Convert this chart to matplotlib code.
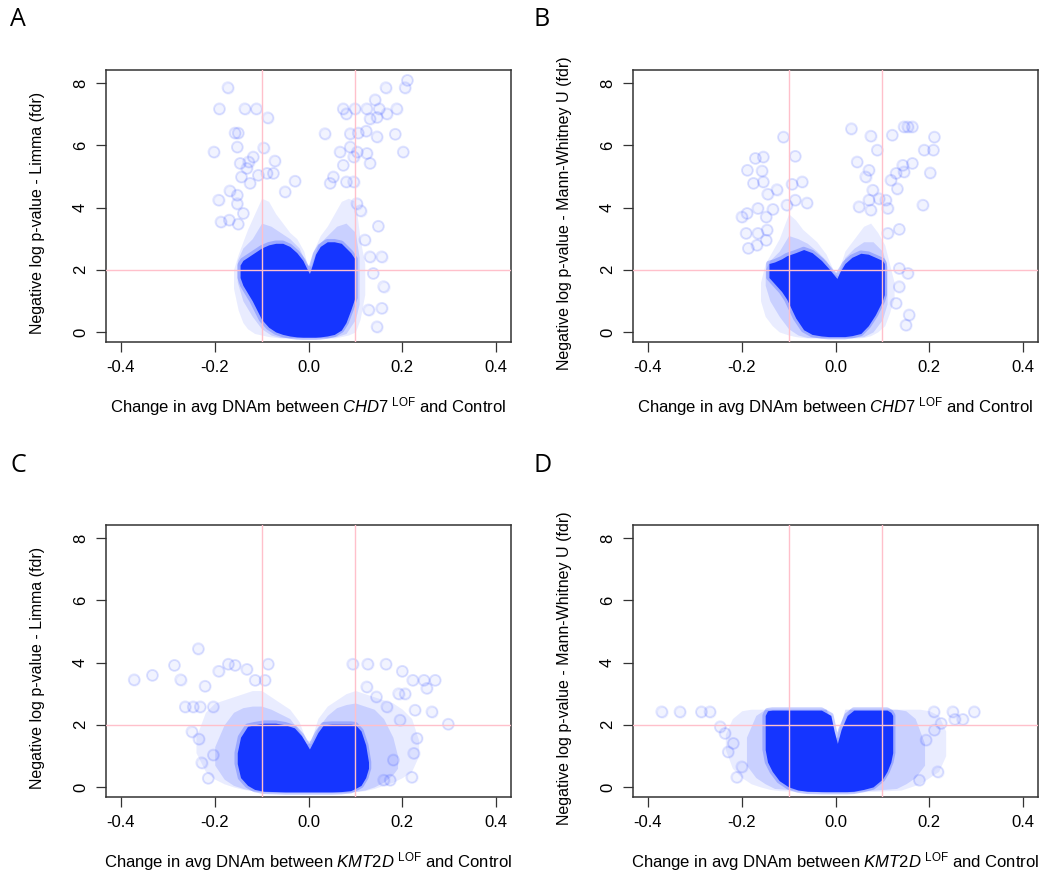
import matplotlib.pyplot as plt

plt.rcParams['font.family'] = 'Liberation Sans'
plt.rcParams['mathtext.fontset'] = 'custom'
plt.rcParams['mathtext.rm'] = 'Liberation Sans'
plt.rcParams['mathtext.it'] = 'Liberation Sans:italic'
plt.rcParams['axes.unicode_minus'] = False

# ---- panel A : CHD7, limma ----
# dense cloud, drawn as three layers (x, lower edge, upper edge)
a_halo_x = [-0.160, -0.150, -0.140, -0.130, -0.115, -0.100, -0.085, -0.070, -0.055, -0.040, -0.025, -0.010, 0.000,
            0.010, 0.025, 0.040, 0.055, 0.070, 0.085, 0.100, 0.110, 0.120]
a_halo_lo = [1.4, 0.7, 0.3, 0.1, -0.05, -0.1, -0.15, -0.18, -0.2, -0.2, -0.2, -0.2, -0.2,
             -0.2, -0.2, -0.2, -0.2, -0.15, -0.1, 0.0, 0.4, 1.2]
a_halo_hi = [2.0, 2.5, 2.9, 3.3, 3.8, 4.3, 4.2, 3.8, 3.5, 3.2, 3.0, 2.6, 2.0,
             2.6, 3.1, 3.4, 3.8, 4.2, 4.3, 4.2, 3.0, 2.2]
a_mid_x = [-0.152, -0.140, -0.120, -0.100, -0.080, -0.060, -0.040, -0.020, -0.005, 0.005, 0.020, 0.040, 0.060,
           0.080, 0.100, 0.108]
a_mid_lo = [1.6, 1.0, 0.5, 0.1, -0.1, -0.18, -0.18, -0.18, -0.18, -0.18, -0.18, -0.18, -0.15, -0.05, 0.4, 0.9]
a_mid_hi = [2.3, 2.7, 3.0, 3.5, 3.4, 3.2, 3.0, 2.7, 2.2, 2.1, 2.8, 3.1, 3.4, 3.5, 3.2, 2.4]
a_core_x = [-0.146, -0.140, -0.130, -0.120, -0.110, -0.100, -0.085, -0.070, -0.055, -0.040, -0.025, -0.012,
            -0.004, 0.002, 0.008, 0.015, 0.025, 0.040, 0.055, 0.070, 0.080, 0.090, 0.099]
a_core_lo = [1.75, 1.5, 1.25, 1.0, 0.7, 0.4, 0.15, 0.0, -0.08, -0.13, -0.16, -0.17,
             -0.17, -0.17, -0.17, -0.17, -0.16, -0.13, -0.08, 0.06, 0.3, 0.7, 1.1]
a_core_hi = [2.15, 2.3, 2.4, 2.5, 2.6, 2.7, 2.8, 2.85, 2.85, 2.75, 2.55, 2.3,
             2.05, 1.88, 2.15, 2.5, 2.75, 2.9, 2.9, 2.85, 2.7, 2.55, 2.35]
a_pts_x = [-0.172, -0.190, -0.136, -0.111, -0.087, 0.211, 0.206, 0.165, 0.142, 0.074, 0.099, 0.081, 0.124,
           0.151, 0.188, 0.167, 0.146, 0.131, 0.035, 0.089, 0.106, 0.123, 0.146, 0.185, -0.157, -0.150,
           -0.152, -0.096, -0.202, 0.202, 0.089, 0.104, 0.096, 0.124, 0.131, 0.067, 0.074, 0.053, 0.046,
           0.081, 0.096, -0.118, -0.128, -0.146, -0.132, -0.143, -0.125, -0.107, -0.089, -0.075, -0.072,
           -0.029, -0.050, -0.168, -0.152, -0.192, -0.152, -0.187, -0.169, -0.150, -0.139, 0.149, 0.131,
           0.156, 0.103, 0.111, 0.138, 0.160, 0.156, 0.146, 0.128, 0.120]
a_pts_y = [7.86, 7.18, 7.18, 7.18, 6.89, 8.09, 7.86, 7.86, 7.47, 7.18, 7.18, 7.02, 7.18,
           7.18, 7.18, 7.02, 6.90, 6.86, 6.38, 6.38, 6.40, 6.46, 6.28, 6.36, 6.40, 6.40,
           5.95, 5.92, 5.79, 5.79, 5.95, 5.79, 5.63, 5.74, 5.42, 5.79, 5.36, 4.99, 4.78,
           4.83, 4.83, 5.63, 5.47, 5.42, 5.26, 4.99, 4.78, 5.04, 5.10, 5.10, 5.50,
           4.85, 4.51, 4.54, 4.40, 4.24, 4.13, 3.54, 3.60, 3.47, 3.81, 3.40, 2.42,
           2.42, 4.13, 3.90, 1.88, 1.46, 0.76, 0.17, 0.71, 2.96]

# ---- panel B : CHD7, Mann-Whitney ----
b_halo_x = [-0.160, -0.150, -0.135, -0.120, -0.100, -0.085, -0.070, -0.055, -0.040, -0.020, -0.005, 0.005,
            0.020, 0.040, 0.060, 0.075, 0.090, 0.105, 0.115, 0.125]
b_halo_lo = [1.0, 0.5, 0.2, 0.0, -0.1, -0.15, -0.18, -0.2, -0.2, -0.2, -0.2, -0.2,
             -0.2, -0.2, -0.18, -0.12, 0.0, 0.2, 0.6, 1.1]
b_halo_hi = [1.6, 2.2, 2.6, 3.0, 3.8, 3.6, 3.3, 3.1, 2.9, 2.5, 2.0, 1.9,
             2.6, 3.0, 3.4, 3.5, 3.2, 2.8, 2.2, 1.6]
b_mid_x = [-0.150, -0.140, -0.120, -0.100, -0.080, -0.060, -0.040, -0.020, -0.005, 0.005, 0.020, 0.040,
           0.060, 0.080, 0.100, 0.110]
b_mid_lo = [1.5, 1.0, 0.5, 0.1, -0.1, -0.18, -0.18, -0.18, -0.18, -0.18, -0.18, -0.18, -0.15, 0.0, 0.4, 0.9]
b_mid_hi = [2.0, 2.3, 2.6, 3.1, 3.0, 2.85, 2.6, 2.3, 1.9, 1.8, 2.4, 2.7, 2.9, 2.9, 2.6, 2.1]
b_core_x = [-0.142, -0.130, -0.115, -0.104, -0.085, -0.068, -0.050, -0.030, -0.015, -0.004, 0.003, 0.010,
            0.020, 0.035, 0.054, 0.070, 0.085, 0.100, 0.104]
b_core_lo = [1.75, 1.55, 1.3, 1.05, 0.45, 0.07, -0.08, -0.13, -0.15, -0.15, -0.15, -0.15,
             -0.15, -0.12, -0.05, 0.2, 0.55, 1.0, 1.2]
b_core_hi = [2.2, 2.25, 2.35, 2.45, 2.55, 2.65, 2.55, 2.3, 2.05, 1.85, 1.72, 1.95,
             2.2, 2.4, 2.53, 2.5, 2.4, 2.3, 2.2]
b_pts_x = [-0.111, 0.034, 0.075, 0.121, 0.146, 0.154, 0.164, 0.211, 0.089, 0.189, 0.209, 0.046, 0.164,
           0.143, 0.146, 0.129, 0.202, 0.071, 0.064, 0.118, 0.132, 0.079, 0.186, 0.071, 0.093, 0.107,
           0.111, 0.050, 0.075, 0.136, 0.111, -0.171, -0.154, -0.086, -0.188, -0.157, -0.175, -0.154,
           -0.071, -0.093, -0.125, -0.145, -0.104, -0.086, -0.061, -0.200, -0.189, -0.166, -0.148,
           -0.134, -0.191, -0.166, -0.186, -0.168, -0.146, -0.148, 0.157, 0.150, 0.136, 0.129, 0.154, 0.136]
b_pts_y = [6.27, 6.54, 6.30, 6.33, 6.60, 6.60, 6.60, 6.27, 5.85, 5.85, 5.85, 5.47, 5.42,
           5.36, 5.15, 5.10, 5.12, 5.20, 4.99, 4.88, 4.61, 4.56, 4.08, 4.24, 4.29, 4.24,
           3.97, 4.03, 3.92, 3.30, 3.17, 5.58, 5.63, 5.65, 5.20, 5.18, 4.78, 4.83,
           4.83, 4.75, 4.58, 4.43, 4.08, 4.24, 4.15, 3.70, 3.81, 3.97, 3.70,
           3.94, 3.17, 3.17, 2.69, 2.79, 3.28, 2.95, 0.55, 0.22, 1.46, 0.92, 1.88, 2.04]

# ---- panel C : KMT2D, limma ----
c_halo_x = [-0.240, -0.220, -0.200, -0.180, -0.160, -0.140, -0.120, -0.100, -0.080, -0.060, -0.040, -0.020,
            -0.005, 0.005, 0.020, 0.040, 0.060, 0.080, 0.100, 0.120, 0.140, 0.160, 0.180, 0.200, 0.220, 0.235]
c_halo_lo = [1.1, 0.5, 0.25, 0.1, 0.0, -0.08, -0.12, -0.15, -0.17, -0.18, -0.18, -0.18,
             -0.18, -0.18, -0.18, -0.18, -0.18, -0.17, -0.15, -0.12, -0.05, 0.05, 0.15, 0.3, 0.5, 1.0]
c_halo_hi = [1.6, 2.4, 2.7, 2.8, 2.9, 3.0, 3.1, 3.1, 2.9, 2.7, 2.5, 2.1,
             1.5, 1.5, 2.2, 2.6, 2.8, 3.0, 3.1, 3.0, 2.9, 2.8, 2.7, 2.5, 2.2, 1.5]
c_mid_x = [-0.200, -0.180, -0.160, -0.140, -0.120, -0.100, -0.080, -0.060, -0.040, -0.020, -0.005, 0.005,
           0.020, 0.040, 0.060, 0.080, 0.100, 0.120, 0.140, 0.160, 0.180, 0.190]
c_mid_lo = [0.7, 0.25, 0.05, -0.05, -0.12, -0.15, -0.17, -0.17, -0.17, -0.17, -0.17, -0.17,
            -0.17, -0.17, -0.17, -0.17, -0.15, -0.1, 0.0, 0.15, 0.4, 0.6]
c_mid_hi = [1.3, 2.0, 2.4, 2.55, 2.6, 2.6, 2.5, 2.35, 2.2, 1.8, 1.4, 1.4,
            1.9, 2.3, 2.55, 2.65, 2.7, 2.6, 2.5, 2.2, 1.6, 1.0]
c_core_x = [-0.152, -0.145, -0.130, -0.115, -0.095, -0.070, -0.050, -0.030, -0.015, -0.005, 0.002, 0.010,
            0.020, 0.032, 0.050, 0.070, 0.090, 0.100, 0.112, 0.122, 0.128]
c_core_lo = [0.75, 0.3, 0.05, -0.08, -0.14, -0.15, -0.16, -0.16, -0.16, -0.16, -0.16, -0.16,
             -0.16, -0.16, -0.16, -0.15, -0.12, -0.05, 0.05, 0.3, 0.6]
c_core_hi = [1.1, 1.6, 1.95, 2.0, 2.05, 2.05, 2.0, 1.9, 1.65, 1.4, 1.22, 1.45,
             1.75, 2.0, 2.02, 2.02, 2.02, 2.0, 1.8, 1.35, 0.8]
c_pts_x = [-0.235, -0.372, -0.333, -0.286, -0.273, -0.171, -0.157, -0.132, -0.086, -0.114, -0.093, -0.192,
           -0.221, 0.094, 0.126, 0.165, 0.200, 0.270, 0.246, 0.222, 0.252, 0.227, 0.263, 0.298, 0.231,
           0.224, 0.220, 0.181, -0.249, -0.234, -0.203, -0.228, -0.214, -0.263, -0.246, -0.231, -0.203,
           0.174, 0.160, 0.145, 0.124, 0.192, 0.206, 0.167, 0.195]
c_pts_y = [4.45, 3.45, 3.59, 3.91, 3.45, 3.95, 3.91, 3.78, 3.95, 3.43, 3.43, 3.72,
           3.24, 3.95, 3.95, 3.95, 3.72, 3.43, 3.43, 3.43, 3.17, 2.47, 2.42, 2.02, 1.56,
           1.08, 0.31, 0.87, 1.78, 1.54, 1.03, 0.78, 0.28, 2.58, 2.58, 2.58, 2.58,
           0.22, 0.22, 2.90, 3.22, 3.00, 3.00, 2.58, 2.15]

# ---- panel D : KMT2D, Mann-Whitney ----
d_halo_x = [-0.235, -0.220, -0.200, -0.180, -0.160, -0.140, -0.120, -0.020, -0.008, 0.000, 0.010, 0.020,
            0.030, 0.140, 0.160, 0.180, 0.200, 0.220, 0.235]
d_halo_lo = [1.2, 0.6, 0.3, 0.1, 0.0, -0.08, -0.12, -0.18, -0.18, -0.18, -0.18, -0.18,
             -0.18, -0.1, 0.0, 0.1, 0.3, 0.5, 1.0]
d_halo_hi = [1.7, 2.2, 2.45, 2.5, 2.5, 2.5, 2.5, 2.5, 2.2, 1.6, 1.6, 2.2,
             2.5, 2.5, 2.5, 2.5, 2.45, 2.3, 1.8]
d_mid_x = [-0.190, -0.170, -0.150, -0.130, -0.020, 0.000, 0.020, 0.130, 0.150, 0.170, 0.190]
d_mid_lo = [0.7, 0.3, 0.1, -0.05, -0.17, -0.17, -0.17, -0.05, 0.1, 0.3, 0.7]
d_mid_hi = [1.6, 2.3, 2.5, 2.5, 2.5, 1.5, 2.5, 2.5, 2.45, 2.2, 1.4]
d_core_x = [-0.150, -0.145, -0.135, -0.120, -0.100, -0.080, -0.060, -0.030, -0.010, -0.003, 0.004, 0.012,
            0.025, 0.039, 0.060, 0.080, 0.100, 0.110, 0.118, 0.122]
d_core_lo = [1.2, 0.8, 0.5, 0.2, 0.0, -0.1, -0.14, -0.15, -0.15, -0.15, -0.15, -0.15,
             -0.15, -0.14, -0.08, 0.0, 0.25, 0.5, 0.8, 1.1]
d_core_hi = [2.3, 2.45, 2.47, 2.47, 2.47, 2.47, 2.47, 2.47, 2.3, 1.8, 1.4, 1.85,
             2.3, 2.47, 2.47, 2.47, 2.47, 2.47, 2.4, 2.3]
d_pts_x = [-0.371, -0.332, -0.286, -0.268, 0.296, 0.250, 0.210, -0.246, -0.236, -0.218, -0.229, -0.200,
           -0.211, 0.218, 0.211, 0.225, 0.254, 0.271, 0.193, 0.179]
d_pts_y = [2.42, 2.42, 2.42, 2.42, 2.42, 2.42, 2.42, 1.94, 1.72, 1.40, 1.13, 0.65,
           0.31, 0.49, 1.83, 2.04, 2.17, 2.17, 1.51, 0.22]

x_ticks = [-0.4, -0.2, 0.0, 0.2, 0.4]
x_ticklabels = ['-0.4', '-0.2', '0.0', '0.2', '0.4']
y_ticks = [0, 2, 4, 6, 8]
fc_cut = 0.1
p_cut = 2

ylab_limma = 'Negative log p-value - Limma (fdr)'
ylab_mw = 'Negative log p-value - Mann-Whitney U (fdr)'
xlab_chd7 = r'Change in avg DNAm between $\mathit{CHD7}^{\ \mathrm{LOF}}$ and Control'
xlab_kmt2d = r'Change in avg DNAm between $\mathit{KMT2D}^{\ \mathrm{LOF}}$ and Control'

BLUE = '#1535ff'
PINK = '#ffc0cb'
FW, FH = 1045, 875

panels = [
    ('A', (106, 70), ylab_limma, xlab_chd7,
     [(a_halo_x, a_halo_lo, a_halo_hi), (a_mid_x, a_mid_lo, a_mid_hi), (a_core_x, a_core_lo, a_core_hi)],
     a_pts_x, a_pts_y, (18, 20)),
    ('B', (633, 70), ylab_mw, xlab_chd7,
     [(b_halo_x, b_halo_lo, b_halo_hi), (b_mid_x, b_mid_lo, b_mid_hi), (b_core_x, b_core_lo, b_core_hi)],
     b_pts_x, b_pts_y, (542, 20)),
    ('C', (106, 525), ylab_limma, xlab_kmt2d,
     [(c_halo_x, c_halo_lo, c_halo_hi), (c_mid_x, c_mid_lo, c_mid_hi), (c_core_x, c_core_lo, c_core_hi)],
     c_pts_x, c_pts_y, (18, 465)),
    ('D', (633, 525), ylab_mw, xlab_kmt2d,
     [(d_halo_x, d_halo_lo, d_halo_hi), (d_mid_x, d_mid_lo, d_mid_hi), (d_core_x, d_core_lo, d_core_hi)],
     d_pts_x, d_pts_y, (543, 465)),
]

fig = plt.figure(figsize=(FW / 100, FH / 100), dpi=100)

for letter, (left, top), ylab, xlab, layers, px, py, (lx, ly) in panels:
    ax = fig.add_axes([left / FW, 1 - (top + 272) / FH, 405 / FW, 272 / FH])
    alphas = [0.09, 0.15, 1.0]
    for (lx_, lo_, hi_), al in zip(layers, alphas):
        ax.fill_between(lx_, lo_, hi_, color=BLUE, alpha=al, lw=0, zorder=1)
    # soft rim round the solid core
    cx, clo, chi = layers[2]
    ax.fill_between(cx, clo, chi, facecolor='none', edgecolor=BLUE, alpha=0.25, lw=4, zorder=1)
    ax.scatter(px, py, s=60, facecolors=BLUE, edgecolors=BLUE, alpha=0.06, linewidths=1.3, zorder=2)
    ax.scatter(px, py, s=60, facecolors='none', edgecolors=BLUE, alpha=0.1, linewidths=1.3, zorder=2)

    ax.axvline(-fc_cut, color=PINK, lw=1.0, zorder=3)
    ax.axvline(fc_cut, color=PINK, lw=1.0, zorder=3)
    ax.axhline(p_cut, color=PINK, lw=1.0, zorder=3)

    ax.set_xlim(-0.432, 0.432)
    ax.set_ylim(-0.324, 8.424)
    ax.set_xticks(x_ticks)
    ax.set_xticklabels(x_ticklabels)
    ax.set_yticks(y_ticks)
    ax.tick_params(axis='both', direction='out', length=7, width=0.9, color='#333333',
                   labelsize=12, pad=6)
    ax.tick_params(axis='y', labelrotation=90)
    for lab in ax.get_yticklabels():
        lab.set_va('center')
    for s in ax.spines.values():
        s.set_linewidth(1.1)
        s.set_color('#333333')

    ax.text(0.5, -0.239, xlab, transform=ax.transAxes, ha='center', va='center', fontsize=12)
    ax.text(-0.168, 0.474, ylab, transform=ax.transAxes, ha='center', va='center',
            rotation=90, fontsize=11.5)
    fig.text(lx / FW, 1 - ly / FH, letter, ha='center', va='center', fontsize=18, family='Open Sans')

fig.savefig('out.png', dpi=100)
